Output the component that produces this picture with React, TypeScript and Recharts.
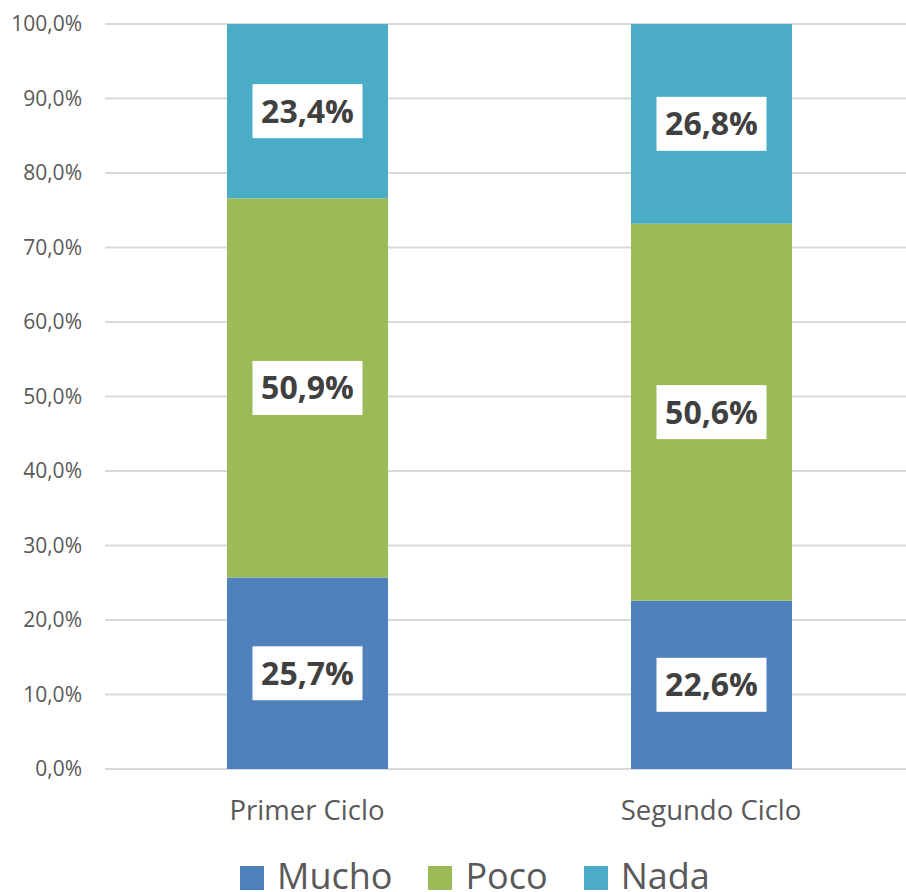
import React from "react";
import { BarChart, Bar, XAxis, YAxis, CartesianGrid, Legend, LabelList } from "recharts";

const categories = ["Primer Ciclo", "Segundo Ciclo"];
const mucho = [25.7, 22.6];
const poco = [50.9, 50.6];
const nada = [23.4, 26.8];
const yTicks = [0, 10, 20, 30, 40, 50, 60, 70, 80, 90, 100];

const seriesDefs = [
  { key: "Mucho", color: "#4F81BD" },
  { key: "Poco", color: "#9BBB59" },
  { key: "Nada", color: "#4BACC6" },
];

const data = categories.map((c, i) => ({ name: c, Mucho: mucho[i], Poco: poco[i], Nada: nada[i] }));

const FONT = "'Open Sans', 'Noto Sans', sans-serif";
const fmt = (v: number) => v.toFixed(1).replace(".", ",") + "%";

const DataLabel = (props: any) => {
  const { x, y, width, height, value } = props;
  const cx = x + width / 2;
  const cy = y + height / 2;
  return (
    <g>
      <rect x={cx - 55} y={cy - 27} width={110} height={54} fill="#ffffff" />
      <text x={cx} y={cy + 11.5} textAnchor="middle" fontFamily={FONT} fontWeight={700} fontSize={32} fill="#404040">
        {fmt(value)}
      </text>
    </g>
  );
};

const LegendContent = () => (
  <div style={{ display: "flex", fontFamily: FONT, fontSize: 36, lineHeight: "29px", color: "#595959" }}>
    {seriesDefs.map((s) => (
      <div key={s.key} style={{ display: "flex", alignItems: "flex-start", marginRight: 36 }}>
        <span style={{ display: "inline-block", width: 24, height: 24, background: s.color, marginTop: 5, marginRight: 13 }} />
        <span>{s.key}</span>
      </div>
    ))}
  </div>
);

export default function App() {
  return (
    <div style={{ width: 906, height: 892, overflow: "hidden", position: "relative" }}>
      <style>{"body{margin:0;overflow:hidden}"}</style>
      <BarChart width={913} height={892} data={data} margin={{ top: 24, right: 0, bottom: 34, left: 0 }} barSize={161}>
        <CartesianGrid vertical={false} stroke="#d9d9d9" strokeWidth={2} />
        <XAxis
          dataKey="name"
          axisLine={false}
          tickLine={false}
          tickSize={0}
          tickMargin={31}
          height={60}
          tick={{ fill: "#595959", fontSize: 27.5, fontFamily: FONT }}
        />
        <YAxis
          domain={[0, 100]}
          ticks={yTicks}
          interval={0}
          width={105}
          axisLine={false}
          tickLine={false}
          tickSize={0}
          tickMargin={23}
          tickFormatter={fmt}
          tick={{ fill: "#595959", fontSize: 21, fontFamily: FONT }}
        />
        <Legend
          verticalAlign="bottom"
          content={<LegendContent />}
          wrapperStyle={{ top: 861, left: 240, bottom: "auto", width: 600, height: 29 }}
        />
        {seriesDefs.map((s) => (
          <Bar key={s.key} dataKey={s.key} stackId="a" fill={s.color} isAnimationActive={false}>
            <LabelList dataKey={s.key} content={<DataLabel />} />
          </Bar>
        ))}
      </BarChart>
    </div>
  );
}
